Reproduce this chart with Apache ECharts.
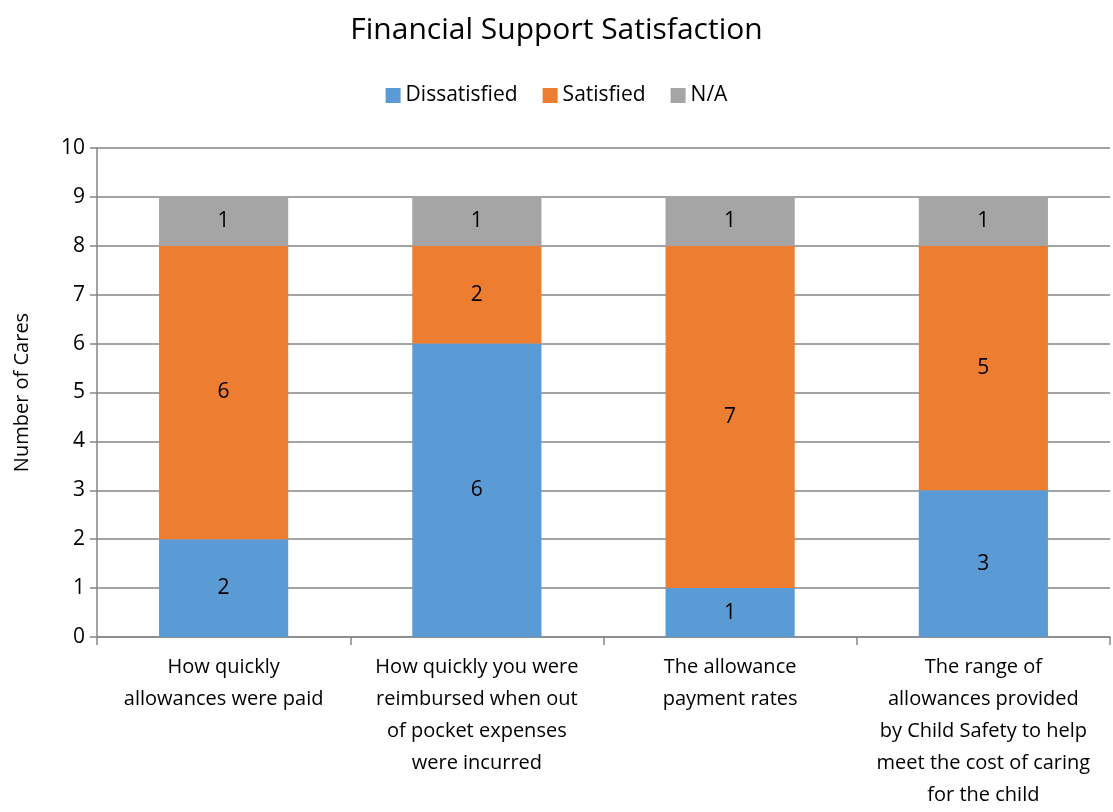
<!DOCTYPE html>
<html><head><meta charset="utf-8">
<script src="https://cdn.jsdelivr.net/npm/echarts@6/dist/echarts.min.js"></script>
<style>html,body{margin:0;padding:0;background:#fff}#c{width:1113px;height:812px}</style>
</head><body><div id="c"></div>
<script>
const categories = [
  "How quickly\nallowances were paid",
  "How quickly you were\nreimbursed when out\nof pocket expenses\nwere incurred",
  "The allowance\npayment rates",
  "The range of\nallowances provided\nby Child Safety to help\nmeet the cost of caring\nfor the child"
];
const dissatisfied = [2, 6, 1, 3];
const satisfied = [6, 2, 7, 5];
const na = [1, 1, 1, 1];
const yTicks = [0,1,2,3,4,5,6,7,8,9,10];

const font = "Open Sans";
const chart = echarts.init(document.getElementById('c'));
const lbl = {show:true, position:'inside', color:'#000', fontSize:21, fontFamily:font};
chart.setOption({
  animation:false,
  textStyle:{fontFamily:font},
  title:{text:'Financial Support Satisfaction', left:'center', top:10,
    textStyle:{fontSize:30, fontWeight:'normal', color:'#000', fontFamily:font}},
  legend:{top:80, left:'center', itemWidth:15, itemHeight:15, itemGap:25, icon:'rect',
    textStyle:{fontSize:21, color:'#000', fontFamily:font},
    data:['Dissatisfied','Satisfied','N/A']},
  grid:{left:97, right:3, top:148, bottom:175},
  xAxis:{type:'category', data:categories,
    axisLine:{lineStyle:{color:'#868686', width:1.5}},
    axisTick:{show:true, length:8, lineStyle:{color:'#868686', width:1.5}},
    axisLabel:{fontSize:20, color:'#000', lineHeight:32, margin:14, interval:0, fontFamily:font}},
  yAxis:{type:'value', min:0, max:10, interval:1,
    name:'Number of Cares', nameLocation:'middle', nameGap:65, nameRotate:90,
    nameTextStyle:{fontSize:20, color:'#000', fontFamily:font},
    axisLine:{show:true, lineStyle:{color:'#868686', width:1.5}},
    axisTick:{show:true, length:7, lineStyle:{color:'#868686', width:1.5}},
    axisLabel:{fontSize:21, color:'#000', margin:12,
      formatter:v => yTicks.includes(v) ? String(v) : ''},
    splitLine:{lineStyle:{color:'#868686', width:1.5}}},
  series:[
    {name:'Dissatisfied', type:'bar', stack:'a', data:dissatisfied, barWidth:'51%',
      itemStyle:{color:'#5B9BD5'}, label:lbl},
    {name:'Satisfied', type:'bar', stack:'a', data:satisfied,
      itemStyle:{color:'#ED7D31'}, label:lbl},
    {name:'N/A', type:'bar', stack:'a', data:na,
      itemStyle:{color:'#A5A5A5'}, label:lbl}
  ]
});
</script></body></html>
